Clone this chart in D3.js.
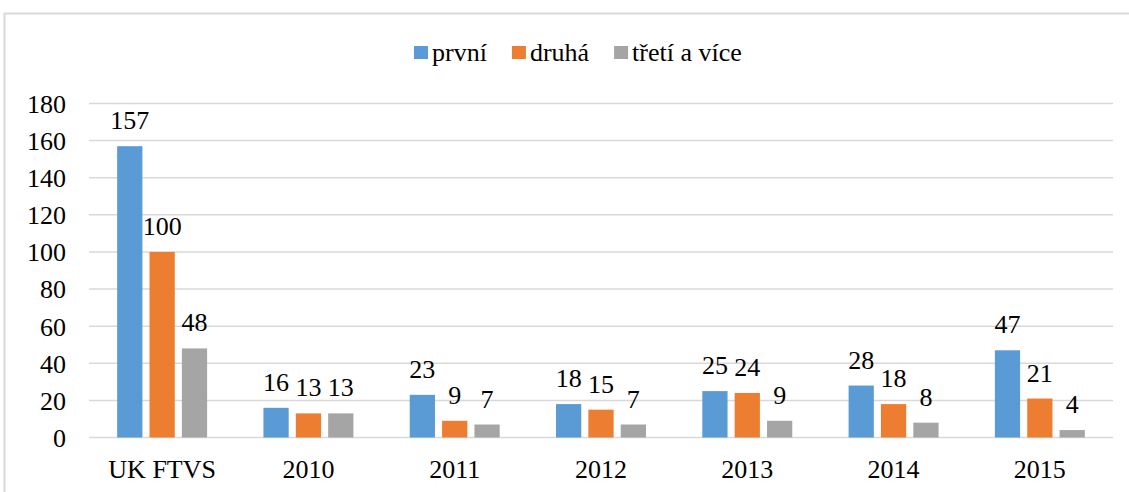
<!DOCTYPE html>
<html>
<head>
<meta charset="utf-8">
<script src="https://cdn.jsdelivr.net/npm/d3@7"></script>
<style>
  body { margin: 0; background: #fff; }
</style>
</head>
<body>
<div id="chart"></div>
<script>
// categories and series
const categories = ["UK FTVS", "2010", "2011", "2012", "2013", "2014", "2015"];
const seriesNames = ["první", "druhá", "třetí a více"];
const prvni = [157, 16, 23, 18, 25, 28, 47];
const druha = [100, 13, 9, 15, 24, 18, 21];
const tretiVice = [48, 13, 7, 7, 9, 8, 4];
const yTicks = [0, 20, 40, 60, 80, 100, 120, 140, 160, 180];

const colors = ["#5B9BD5", "#ED7D31", "#A5A5A5"];
const seriesValues = [prvni, druha, tretiVice];
const fontFamily = "'Liberation Serif', serif";

const dimensions = {
    width: 1129,
    height: 492,
    plot: { left: 89, right: 1113, top: 103.5, bottom: 437.5 }
};

const svg = d3.select("#chart").append("svg")
    .attr("width", dimensions.width)
    .attr("height", dimensions.height)
    .style("font-family", fontFamily);

// chart frame
svg.append("rect")
    .attr("x", 4.5).attr("y", 13.5)
    .attr("width", 1140).attr("height", 500)
    .attr("fill", "none")
    .attr("stroke", "#d9d9d9")
    .attr("stroke-width", 2);

const x0 = d3.scaleBand()
    .domain(categories)
    .range([dimensions.plot.left, dimensions.plot.right])
    .paddingInner(0.385)
    .paddingOuter(0.1925);

const x1 = d3.scaleBand()
    .domain(seriesNames)
    .range([0, x0.bandwidth()])
    .paddingInner(0.22);

const yScale = d3.scaleLinear()
    .domain([0, 180])
    .range([dimensions.plot.bottom, dimensions.plot.top]);

// gridlines
svg.append("g")
    .selectAll("line")
    .data(yTicks)
    .enter().append("line")
    .attr("x1", dimensions.plot.left)
    .attr("x2", dimensions.plot.right)
    .attr("y1", d => yScale(d))
    .attr("y2", d => yScale(d))
    .attr("stroke", "#d9d9d9")
    .attr("stroke-width", 1.5);

// y axis labels
const yAxis = svg.append("g")
    .attr("transform", "translate(" + (dimensions.plot.left - 23) + ",0)")
    .call(d3.axisLeft(yScale).tickValues(yTicks).tickSize(0).tickPadding(0));
yAxis.select(".domain").remove();
yAxis.selectAll("text")
    .style("font-size", "26px")
    .style("font-family", fontFamily)
    .attr("fill", "#000")
    .attr("dy", "0.34em");

// x axis labels
const xAxis = svg.append("g")
    .attr("transform", "translate(0," + dimensions.plot.bottom + ")")
    .call(d3.axisBottom(x0).tickSize(0).tickPadding(0));
xAxis.select(".domain").remove();
xAxis.selectAll("text")
    .attr("y", 40)
    .attr("dy", 0)
    .attr("fill", "#000")
    .style("font-size", "26px")
    .style("font-family", fontFamily);

// bars
const rows = categories.map((c, i) => ({
    category: c,
    values: seriesNames.map((s, j) => ({ series: s, idx: j, value: seriesValues[j][i] }))
}));

const groups = svg.selectAll(".group")
    .data(rows)
    .enter().append("g")
    .attr("class", "group")
    .attr("transform", d => "translate(" + x0(d.category) + ",0)");

groups.selectAll("rect")
    .data(d => d.values)
    .enter().append("rect")
    .attr("x", d => x1(d.series))
    .attr("y", d => yScale(d.value))
    .attr("width", x1.bandwidth())
    .attr("height", d => yScale(0) - yScale(d.value))
    .attr("fill", d => colors[d.idx]);

groups.selectAll(".label")
    .data(d => d.values)
    .enter().append("text")
    .attr("class", "label")
    .attr("x", d => x1(d.series) + x1.bandwidth() / 2)
    .attr("y", d => yScale(d.value) - 17)
    .attr("text-anchor", "middle")
    .style("font-size", "26px")
    .style("font-family", fontFamily)
    .text(d => d.value);

// legend
const legend = svg.append("g");
let lx = 414;
seriesNames.forEach((name, i) => {
    legend.append("rect")
        .attr("x", lx).attr("y", 46)
        .attr("width", 14).attr("height", 13)
        .attr("fill", colors[i]);
    const t = legend.append("text")
        .attr("x", lx + 18)
        .attr("y", 61)
        .style("font-size", "26px")
        .style("font-family", fontFamily)
        .text(name);
    lx += 18 + t.node().getComputedTextLength() + 25;
});
</script>
</body>
</html>
